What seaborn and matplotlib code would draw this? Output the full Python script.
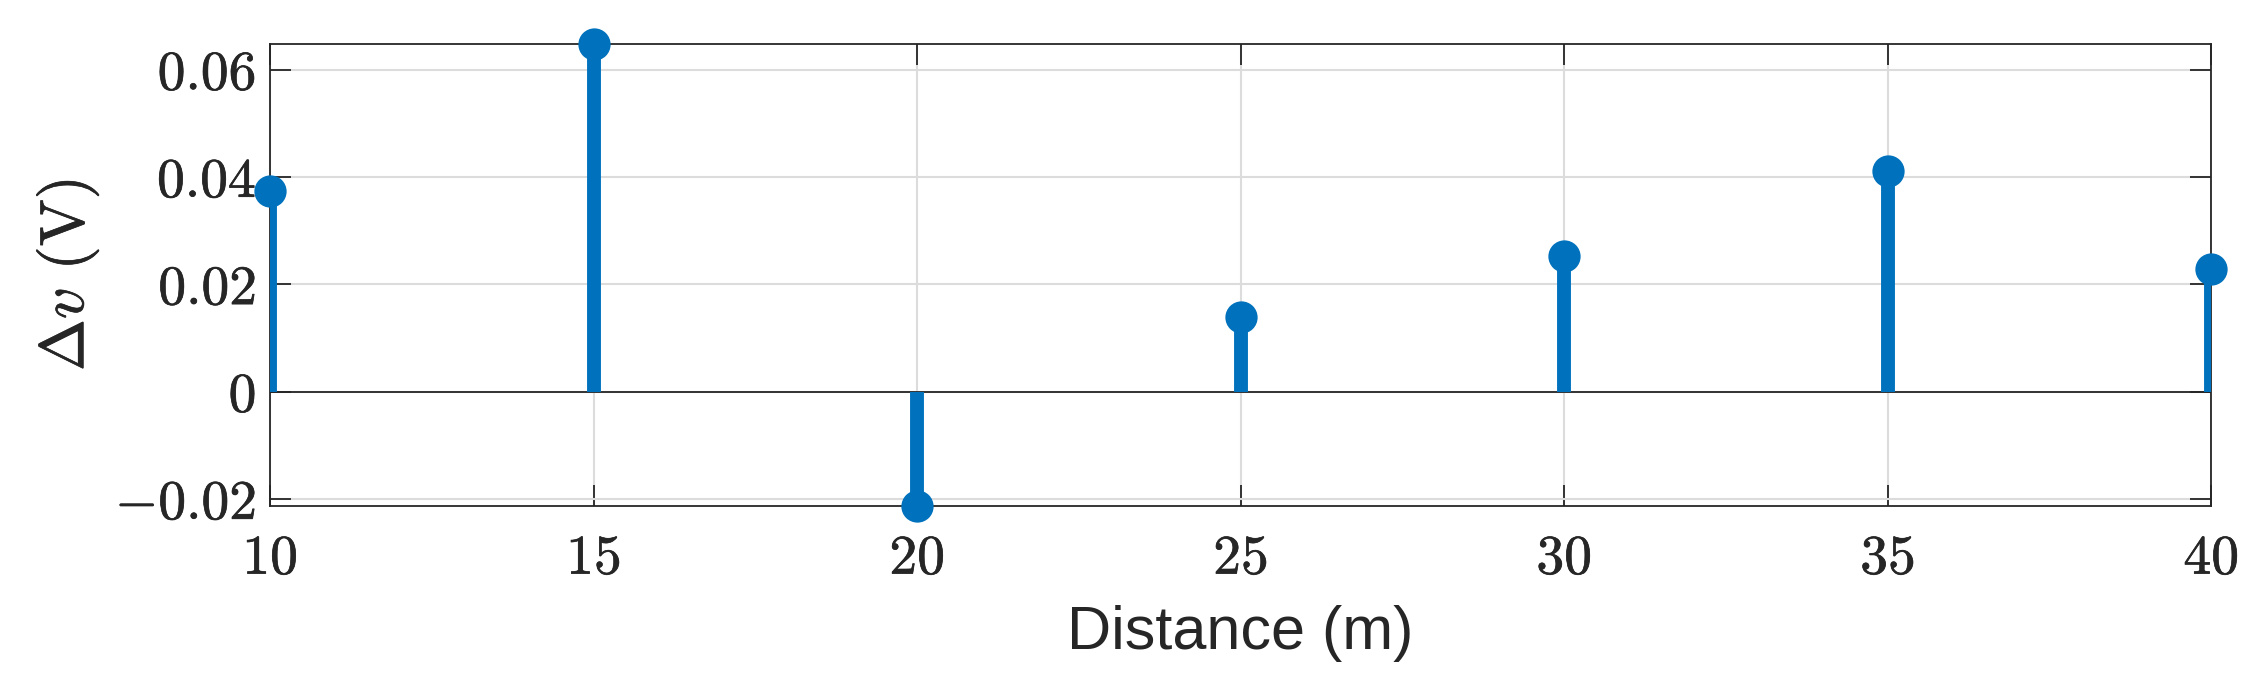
import numpy as np
import pandas as pd
import matplotlib
matplotlib.use("Agg")
import matplotlib.pyplot as plt
import matplotlib.patheffects as pe
import seaborn as sns

# stem values
distance = [10, 15, 20, 25, 30, 35, 40]
delta_v = [0.0373, 0.0647, -0.0213, 0.0140, 0.0253, 0.0411, 0.0229]

x_ticks = [10, 15, 20, 25, 30, 35, 40]
y_ticks = [-0.02, 0, 0.02, 0.04, 0.06]
y_tick_labels = ["$-0.02$", "$0$", "$0.02$", "$0.04$", "$0.06$"]

sns.set_theme(style="whitegrid")
plt.rcParams["mathtext.fontset"] = "cm"
plt.rcParams["font.family"] = ["Liberation Sans", "DejaVu Sans"]

blue = "#0072BD"
dark = "#262626"

df = pd.DataFrame({"distance": distance, "delta_v": delta_v})

fig = plt.figure(figsize=(22.65, 6.9), dpi=100)
ax = fig.add_axes([0.1192, 0.2667, 0.857, 0.669])

# stems then heads
ax.vlines(df["distance"], 0, df["delta_v"], color=blue, lw=10, zorder=3)
sns.scatterplot(data=df, x="distance", y="delta_v", ax=ax, color=blue,
                s=540, edgecolor=blue, linewidth=0, zorder=4, clip_on=False)
ax.axhline(0, color=dark, lw=1.3, zorder=2.5)

ax.set_xlim(10, 40)
ax.set_ylim(-0.0213, 0.0647)
ax.set_xticks(x_ticks)
ax.set_xticklabels([f"${t}$" for t in x_ticks])
ax.set_yticks(y_ticks)
ax.set_yticklabels(y_tick_labels)

ax.grid(True, color="#dcdcdc", lw=1.5)
ax.set_axisbelow(True)
for s in ax.spines.values():
    s.set_color(dark)
    s.set_linewidth(1.3)
    s.set_visible(True)

ax.tick_params(axis="both", which="both", direction="in", length=15, width=1.3,
               color=dark, labelcolor=dark, labelsize=40,
               top=True, right=True, bottom=True, left=True)
ax.tick_params(axis="y", pad=10)
ax.tick_params(axis="x", pad=20)

ax.set_xlabel("Distance (m)", fontsize=44, color=dark, labelpad=14)
ylab = ax.set_ylabel(r"$\Delta v\ \mathrm{(V)}$", fontsize=45, color=dark, labelpad=10)

# the LaTeX labels in the original are drawn a bit heavier
thick = [pe.withStroke(linewidth=0.5, foreground=dark)]
for lab in ax.get_xticklabels() + ax.get_yticklabels() + [ylab]:
    lab.set_path_effects(thick)

fig.savefig("out.png", dpi=100, facecolor="white")
